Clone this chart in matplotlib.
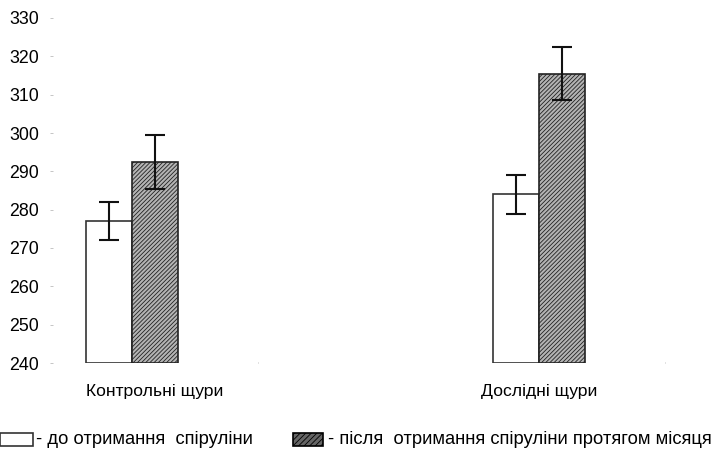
import numpy as np
import matplotlib.pyplot as plt

plt.rcParams['font.family'] = ['Liberation Sans', 'DejaVu Sans']
plt.rcParams['hatch.linewidth'] = 0.6

groups = ['Контрольні щури', 'Дослідні щури']
before = [277, 284]
before_err = [5, 5]
after = [292.5, 315.5]
after_err = [7, 7]
yticks = [240, 250, 260, 270, 280, 290, 300, 310, 320, 330]
legend_labels = ['- до отримання  спіруліни', '- після  отримання спіруліни протягом місяця']

fig = plt.figure(figsize=(7.16, 4.5), dpi=100)
ax = fig.add_axes([53/716, 87/450, 663/716, 345/450])

x = np.arange(len(groups))
w = 0.113
ax.bar(x - w/2, [b - 240 for b in before], w, bottom=240, color='white',
       edgecolor='#333333', linewidth=1.2, zorder=2)
ax.bar(x + w/2, [a - 240 for a in after], w, bottom=240, color='#b4b4b4',
       edgecolor='#222222', hatch='////////', linewidth=1.2, zorder=2)
ax.errorbar(x - w/2, before, yerr=before_err, fmt='none', ecolor='#111111',
            elinewidth=1.5, capsize=7, capthick=1.5, zorder=3)
ax.errorbar(x + w/2, after, yerr=after_err, fmt='none', ecolor='#111111',
            elinewidth=1.5, capsize=7, capthick=1.5, zorder=3)

ax.set_ylim(240, 330)
ax.set_xlim(-0.194, 1.435)
ax.set_yticks(yticks)
ax.tick_params(axis='y', length=2, width=0.6, color='#bbbbbb', labelsize=12.8, pad=8)
ax.set_xticks([0.31, 1.31])
ax.set_xticklabels([])
ax.tick_params(axis='x', length=1, width=0.6, color='#bbbbbb', direction='in')
for s in ax.spines.values():
    s.set_visible(False)

ax.text(0.055, 232.5, groups[0], ha='center', va='center', fontsize=12.6)
ax.text(1.0, 232.5, groups[1], ha='center', va='center', fontsize=12.6)

# legend drawn manually below
fig.patches.append(plt.Rectangle((0/716, 4/450), 33/716, 13/450, transform=fig.transFigure,
                                 facecolor='white', edgecolor='#333333', linewidth=1.2))
fig.patches.append(plt.Rectangle((293/716, 4/450), 30/716, 13/450, transform=fig.transFigure,
                                 facecolor='#666666', edgecolor='black', hatch='//////', linewidth=1.2))
fig.text(36/716, 10/450, legend_labels[0], ha='left', va='center', fontsize=13.2)
fig.text(328/716, 10/450, legend_labels[1], ha='left', va='center', fontsize=13.2)

fig.savefig('out.png', dpi=100)
